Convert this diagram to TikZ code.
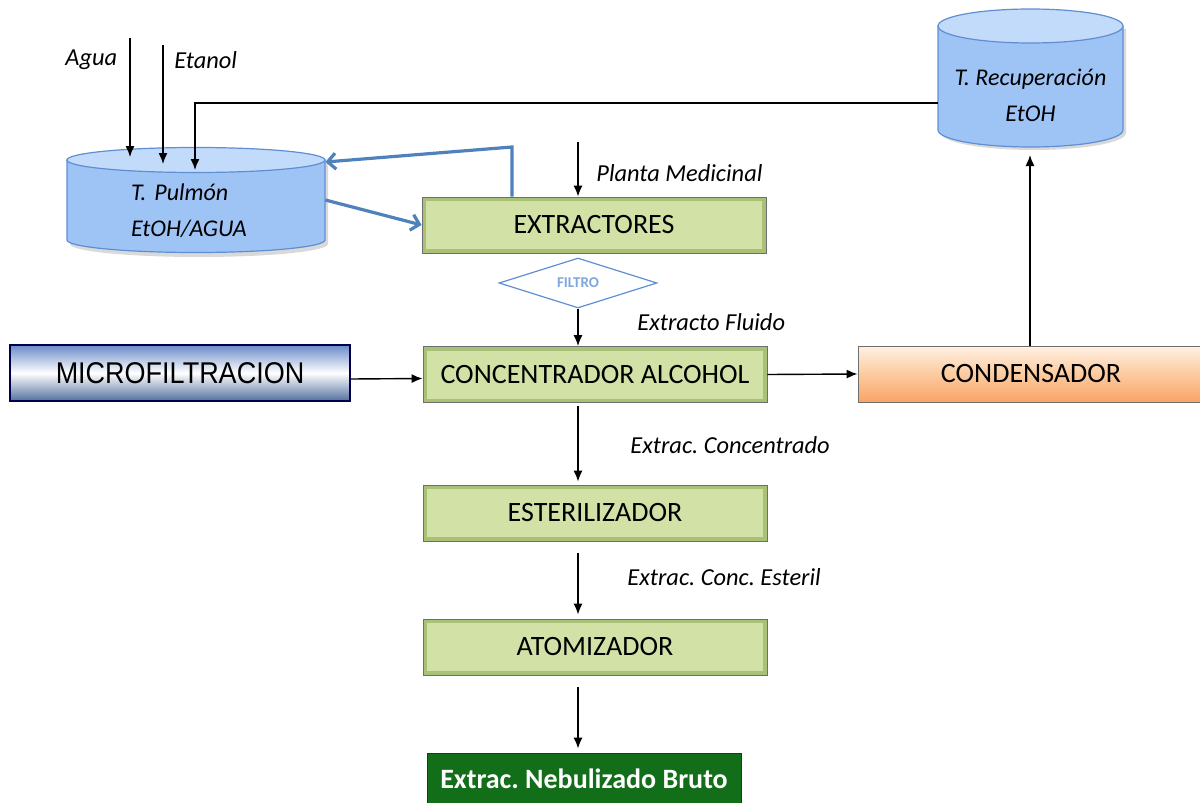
\documentclass[tikz,border=0pt]{standalone}
\usepackage{fontspec}
\setmainfont{Carlito}
\newfontfamily\arialfont[FakeStretch=0.9]{Liberation Sans}
\usetikzlibrary{arrows.meta,shapes.geometric}
\frenchspacing

\definecolor{boxfill}{HTML}{D2E1A6}
\definecolor{boxedge}{HTML}{A9C177}
\definecolor{boxline}{HTML}{6E6E6E}
\definecolor{tankbody}{HTML}{9EC3F5}
\definecolor{tanktop}{HTML}{C3DBFA}
\definecolor{tankline}{HTML}{5F8FD2}
\definecolor{bluelink}{HTML}{4F81BD}
\definecolor{microtop}{HTML}{6A8BC8}
\definecolor{microbot}{HTML}{52709F}
\definecolor{condtop}{HTML}{FFF1E4}
\definecolor{condmid}{HTML}{FCCB9F}
\definecolor{condbot}{HTML}{F8A466}
\definecolor{brutofill}{HTML}{136E1A}
\definecolor{filtrotext}{HTML}{7FA7DC}

\tikzset{
  proc/.style={draw=boxline, fill=boxedge, minimum width=172pt, minimum height=28pt,
    inner sep=0pt, font=\fontsize{14}{16}\selectfont,
    path picture={\fill[boxfill] ([shift={(2pt,-2pt)}]path picture bounding box.north west)
      rectangle ([shift={(-2pt,2pt)}]path picture bounding box.south east);}},
  lbl/.style={font=\fontsize{12.2}{15}\selectfont\itshape, anchor=west, inner sep=0pt},
  tanktxt/.style={font=\fontsize{12}{18}\selectfont\itshape, inner ysep=0pt},
  arr/.style={-{Latex[length=5.5pt,width=4.5pt]}, line width=0.7pt},
  bluearr/.style={-{Straight Barb[length=4pt,width=8pt]}, line width=1.6pt, draw=bluelink},
}

\begin{document}
\begin{tikzpicture}[x=0.5pt, y=-0.5pt]
    \useasboundingbox (0,0) rectangle (1200,803);

    % Tank T. Pulmon
    \fill[black, opacity=0.15] (70,163) -- (70,244) arc[start angle=180, end angle=360, x radius=64.5pt, y radius=6.5pt] -- (328,163) -- cycle;
    \draw[tankline, fill=tankbody, line width=0.6pt] (67,160) -- (67,240) arc[start angle=180, end angle=360, x radius=64.5pt, y radius=6.25pt] -- (325,160) -- cycle;
    \draw[tankline, fill=tanktop, line width=0.6pt] (196,160) ellipse [x radius=64.5pt, y radius=6.25pt];
    \node[tanktxt, text width=65pt, inner xsep=32pt, align=left] (pulmon) at (196,211) {T. Pulmón\\EtOH/AGUA};

    % Tank T. Recuperacion
    \fill[black, opacity=0.15] (941,29) -- (941,133) arc[start angle=180, end angle=360, x radius=46.25pt, y radius=8.5pt] -- (1126,29) -- cycle;
    \draw[tankline, fill=tankbody, line width=0.6pt] (938,26) -- (938,130) arc[start angle=180, end angle=360, x radius=46.25pt, y radius=8.5pt] -- (1123,26) -- cycle;
    \draw[tankline, fill=tanktop, line width=0.6pt] (1030.5,26) ellipse [x radius=46.25pt, y radius=8.5pt];
    \node[tanktxt, minimum width=92.5pt, inner xsep=0pt, align=center] (recup) at (1030.5,95) {T. Recuperación\\EtOH};

    % Process boxes
    \node[proc] (extract) at (594,225) {EXTRACTORES};
    \node[proc] (conc) at (595,374.5) {CONCENTRADOR ALCOHOL};
    \node[proc] (ester) at (595,513) {ESTERILIZADOR};
    \node[proc] (atom) at (595,647) {ATOMIZADOR};
    \node[draw=black!70!blue, line width=0.8pt, top color=microtop, bottom color=microbot, middle color=white,
          minimum width=170pt, minimum height=28pt, font=\arialfont\fontsize{15}{17}\selectfont] (micro) at (180,373) {MICROFILTRACION};
    \node[draw=boxline, top color=condtop, bottom color=condbot, middle color=condmid,
          minimum width=173pt, minimum height=28pt, font=\fontsize{14}{16}\selectfont] (cond) at (1031,374) {CONDENSADOR};
    \node[draw=black!70!green, fill=brutofill, text=white, minimum width=157pt, minimum height=26pt,
          font=\fontsize{14}{16}\selectfont\bfseries] (bruto) at (584,779) {Extrac. Nebulizado Bruto};
    \node[diamond, draw=tankline, line width=0.6pt, aspect=3.2, minimum width=79pt, minimum height=25pt, inner sep=0pt,
          text=filtrotext, font=\fontsize{7.5}{9}\selectfont\bfseries] (filtro) at (578,283) {FILTRO};

    % Labels
    \node[lbl] (agua) at (65,60) {Agua};
    \node[lbl] (etanol) at (174,60) {Etanol};
    \node[lbl] (planta) at (596,173) {Planta Medicinal};
    \node[lbl] (fluido) at (637,322) {Extracto Fluido};
    \node[lbl] (concentrado) at (630,445) {Extrac. Concentrado};
    \node[lbl] (esteril) at (627,577) {Extrac. Conc. Esteril};

    % Inlets
    \coordinate (aguatop) at (130,38);
    \coordinate (aguain) at (130,157);
    \coordinate (etanoltop) at (163,45);
    \coordinate (etanolin) at (163,164);
    \coordinate (retorno) at (195,170);
    \coordinate (plantatop) at (578,142);
    \coordinate (recupin) at (1030,155);
    \coordinate (blueup) at (512,147);

    % Connectors
    \draw[arr] (aguatop) -- (aguain);
    \draw[arr] (etanoltop) -- (etanolin);
    \draw[arr] ([yshift=-4pt]recup.west -| 938,0) -| (retorno);
    \draw[arr] (plantatop) -- (plantatop |- extract.north);
    \draw[arr] (filtro.south) -- (filtro.south |- conc.north);
    \draw[arr, shorten <=1.5pt, shorten >=1.5pt] (filtro |- conc.south) -- (filtro |- ester.north);
    \draw[arr, shorten <=6pt, shorten >=2pt] (filtro |- ester.south) -- (filtro |- atom.north);
    \draw[arr, shorten <=6pt, shorten >=2pt] (filtro |- atom.south) -- (filtro |- bruto.north);
    \draw[arr] ([yshift=-3pt]micro.east) -- ([yshift=-2pt]conc.west);
    \draw[arr] (conc.east) -- (cond.west);
    \draw[arr] (cond.north -| recupin) -- (recupin);

    % Blue loop between tank and extractors
    \draw[bluearr] (blueup |- extract.north) -- (blueup) -- ([yshift=24.5pt]pulmon.east);
    \draw[bluearr] ([yshift=5.5pt]pulmon.east) -- (extract.west);

\end{tikzpicture}
\end{document}
